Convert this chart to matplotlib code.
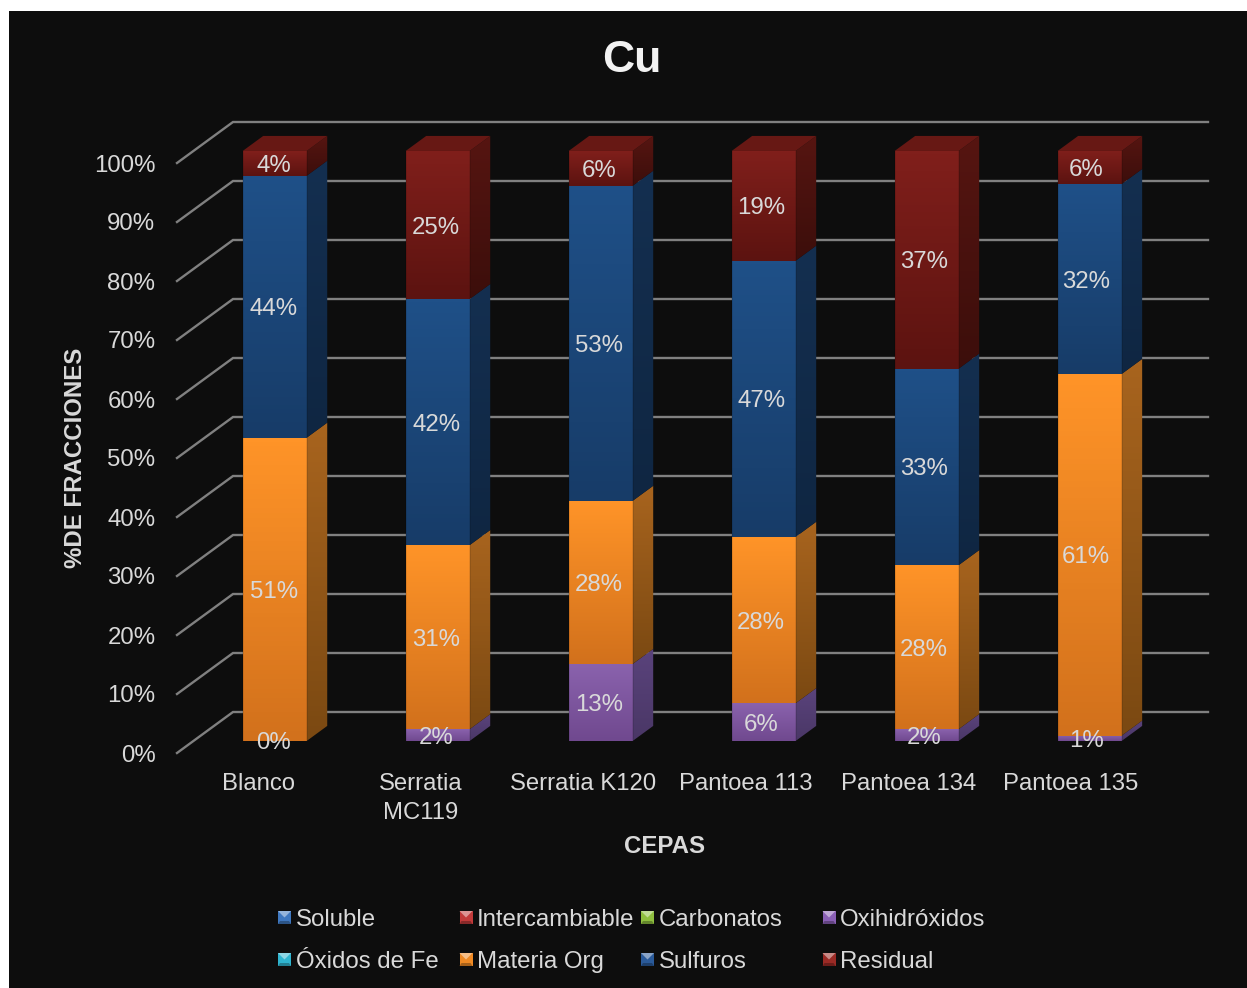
import numpy as np
import matplotlib
matplotlib.use("Agg")
import matplotlib.pyplot as plt
from matplotlib.colors import to_rgb
from matplotlib.patches import Polygon, Rectangle
from matplotlib.transforms import Affine2D

plt.rcParams["font.family"] = ["Liberation Sans", "DejaVu Sans"]

cepas = ["Blanco", "Serratia\nMC119", "Serratia K120", "Pantoea 113", "Pantoea 134", "Pantoea 135"]
oxihidroxidos = [0.0, 2.0, 13.05, 6.4, 2.0, 0.9]
materia_org = [51.4, 31.2, 27.65, 28.2, 27.8, 61.3]
sulfuros = [44.4, 41.7, 53.4, 46.8, 33.3, 32.2]
residual = [4.2, 25.1, 5.9, 18.6, 36.9, 5.6]
y_ticks = [0, 10, 20, 30, 40, 50, 60, 70, 80, 90, 100]
leyenda = ["Soluble", "Intercambiable", "Carbonatos", "Oxihidróxidos",
           "Óxidos de Fe", "Materia Org", "Sulfuros", "Residual"]
leyenda_colores = ["#3f78c0", "#c23a3a", "#8fbf3f", "#8a5fb5",
                   "#2fb5d0", "#f08a24", "#2a5a9a", "#9a2a25"]

# (frente arriba, frente abajo, lado arriba, lado abajo, tapa)
estilos = [
    (oxihidroxidos, ("#8a62ad", "#70498f", "#5a437c", "#4a3766", "#6a4c8c")),
    (materia_org, ("#ff9428", "#d2711c", "#a8641e", "#7b4912", "#a5611f")),
    (sulfuros, ("#1f5088", "#173c68", "#142f50", "#0f2642", "#16355a")),
    (residual, ("#801f1b", "#5c1310", "#561511", "#3c0e0b", "#671814")),
]

W, H = 1247, 988
ANCHO = 0.394
PASO_BARRAS = 1.003
D_X, D_Y = 56 / 162.5, 41 / 5.9  # fondo del grafico en unidades de los ejes
D_FRENTE, D_ATRAS = 0.293, 0.66
GRIS = "#d9d9d9"

fig = plt.figure(figsize=(W / 100, H / 100), dpi=100, facecolor="white")
px = Affine2D().scale(1 / W, -1 / H).translate(0, 1) + fig.transFigure
fig.add_artist(Rectangle((9, 11), W - 9, H - 11, transform=px, fc="#0d0d0d", ec="none", zorder=-1))

ax = fig.add_axes([177 / W, 1 - 753 / H, 975 / W, 590 / H])
ax.patch.set_visible(False)
for s in ax.spines.values():
    s.set_visible(False)


def proy(x, y, d):
    return x + d * D_X, y + d * D_Y


def cara(verts, c_arriba, c_abajo, z):
    verts = np.array(verts)
    a, b = np.array(to_rgb(c_arriba)), np.array(to_rgb(c_abajo))
    grad = np.linspace(a, b, 64).reshape(64, 1, 3)
    im = ax.imshow(grad, extent=[verts[:, 0].min(), verts[:, 0].max(),
                                 verts[:, 1].min(), verts[:, 1].max()],
                   origin="upper", aspect="auto", zorder=z)
    poly = Polygon(verts, transform=ax.transData, fc="none", ec="none")
    ax.add_patch(poly)
    im.set_clip_box(fig.bbox)
    im.set_clip_path(poly)


# rejilla: diagonal en la pared lateral y horizontal en el fondo
x_izq, x_der = -0.5, 5.5
for t in y_ticks:
    xb, yb = proy(x_izq, t, 1)
    xe, _ = proy(x_der, t, 1)
    ax.plot([x_izq, xb, xe], [t, yb, yb], color="#808080", lw=1.7, zorder=1,
            clip_on=False, solid_joinstyle="miter")

total = np.sum([e[0] for e in estilos], axis=0)
for i in range(len(cepas)):
    base = 0.0
    xc = i * PASO_BARRAS
    x0, x1 = xc - ANCHO / 2, xc + ANCHO / 2
    for serie, (fa, fb, la, lb, tapa) in estilos:
        alto = serie[i] * 100 / total[i]
        arriba = base + alto
        if alto > 0:
            f = [proy(x0, base, D_FRENTE), proy(x1, base, D_FRENTE),
                 proy(x1, arriba, D_FRENTE), proy(x0, arriba, D_FRENTE)]
            cara(f, fa, fb, 4)
            s = [proy(x1, base, D_FRENTE), proy(x1, base, D_ATRAS),
                 proy(x1, arriba, D_ATRAS), proy(x1, arriba, D_FRENTE)]
            cara(s, la, lb, 3)
        if arriba >= 99.99:
            ax.add_patch(Polygon([proy(x0, arriba, D_FRENTE), proy(x1, arriba, D_FRENTE),
                                  proy(x1, arriba, D_ATRAS), proy(x0, arriba, D_ATRAS)],
                                 fc=tapa, ec="none", zorder=3, clip_on=False))
        xt, yt = proy(i, base + alto / 2, D_FRENTE)
        ax.text(xt - 0.006, yt, f"{serie[i]:.0f}%", ha="center", va="center_baseline", color=GRIS,
                fontsize=17.3, zorder=6)
        base = arriba

    # bisel oscuro en los cantos del frente
    for xb in (x0, x1):
        xa, ya = proy(xb, 0, D_FRENTE)
        _, yz = proy(xb, 100, D_FRENTE)
        ax.plot([xa, xa], [ya, yz], color="black", alpha=0.1, lw=1.3, zorder=5,
                solid_capstyle="butt", clip_on=False)

ax.set_xlim(x_izq, x_der)
ax.set_ylim(0, 100)
ax.set_xticks(range(len(cepas)), cepas)
ax.set_yticks(y_ticks, [f"{t}%" for t in y_ticks])
ax.tick_params(axis="x", length=0, pad=14.5, labelsize=17.2, labelcolor=GRIS)
ax.tick_params(axis="y", length=0, pad=15.5, labelsize=17.3, labelcolor=GRIS)
for etiqueta in ax.get_xticklabels():
    etiqueta.set_linespacing(1.38)

fig.text(632, 60, "Cu", transform=px, ha="center", va="center", color="#f2f2f2",
         fontsize=32, fontweight="bold")
fig.text(75, 458, "%DE FRACCIONES", transform=px, ha="center", va="center",
         rotation=90, color=GRIS, fontsize=17.3, fontweight="bold")
fig.text(665, 846, "CEPAS", transform=px, ha="center", va="center", color=GRIS,
         fontsize=17.3, fontweight="bold")

# leyenda en dos filas con columnas de igual ancho
col_x = [278, 459.5, 641, 822.5]
fila_y = [917.5, 959.5]
for k, (nombre, color) in enumerate(zip(leyenda, leyenda_colores)):
    x, y = col_x[k % 4], fila_y[k // 4]
    c = np.array(to_rgb(color))
    claro, oscuro = 0.45 + 0.55 * c, 0.7 * c
    fig.add_artist(Rectangle((x, y - 6.5), 13, 13, transform=px, fc=c, ec="none"))
    fig.add_artist(Polygon([(x, y - 6.5), (x + 13, y - 6.5), (x + 6.5, y)], transform=px,
                           fc=claro, ec="none"))
    fig.add_artist(Polygon([(x, y + 6.5), (x + 13, y + 6.5), (x + 11, y + 3.5), (x + 2, y + 3.5)],
                           transform=px, fc=oscuro, ec="none"))
    fig.text(x + 17.5, y + 2.5, nombre, transform=px, ha="left", va="center", color=GRIS,
             fontsize=17.3)

fig.savefig("out.png", dpi=100, facecolor="white")
